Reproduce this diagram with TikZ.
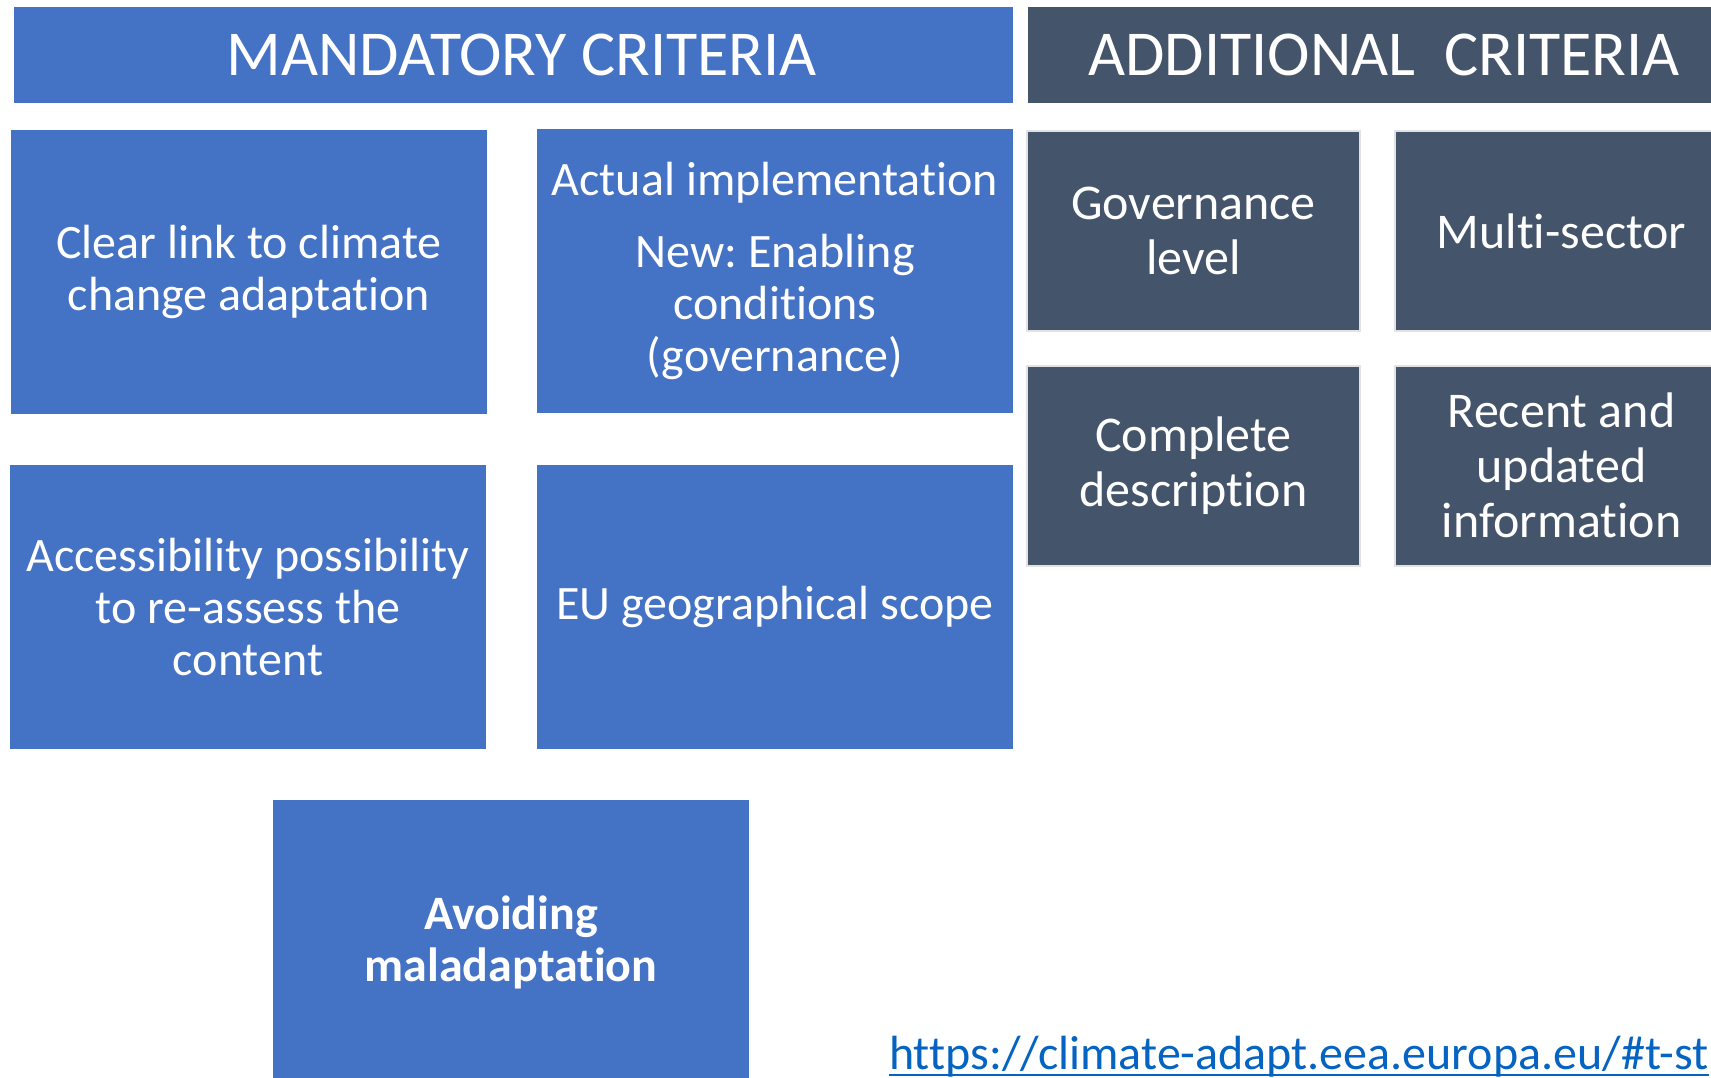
\documentclass[tikz,border=0pt]{standalone}
\usepackage{fontspec}
\setmainfont{Carlito}[Ligatures=NoCommon]
\frenchspacing
\definecolor{mandblue}{HTML}{4472C4}
\definecolor{addslate}{HTML}{44546A}
\definecolor{urlblue}{HTML}{0563C1}
\definecolor{addrim}{HTML}{E2E2E2}
\tikzset{x=1pt,y=-1pt,
    headbox/.style={inner sep=0pt,text=white,
        font=\fontsize{64}{70}\selectfont,minimum height=96pt},
    mandbox/.style={fill=mandblue,inner sep=0pt,text=white,align=center,
        minimum width=476pt,minimum height=284pt,
        font=\fontsize{48}{52}\selectfont},
    addbox/.style={fill=addslate,draw=addrim,line width=2pt,inner sep=0pt,
        text=white,align=center,minimum width=333pt,minimum height=200pt,
        font=\fontsize{50}{55}\selectfont},
    }
\begin{document}
\begin{tikzpicture}
	\useasboundingbox (0,0) rectangle (1711,1078);
	\clip (0,0) rectangle (1711,1078);
	% headers
	\node[headbox,fill=mandblue,minimum width=999pt] (mandhead) at (513.5,55) {\hspace*{16pt}MANDATORY CRITERIA};
	\node[headbox,fill=addslate,minimum width=712pt] (addhead) at (1384,55) {ADDITIONAL\ \ CRITERIA};
	% mandatory criteria
	\node[mandbox] (clear) at (249,272) {Clear link to climate\\change adaptation};
	\node[mandbox] (actual) at (775,271) {Actual implementation\\[20pt]New: Enabling\\conditions\\(governance)};
	\node[mandbox] (access) at (248,607) {Accessibility possibility\\to re-assess the\\content};
	\node[mandbox] (eu) at (775,607) {EU geographical scope};
	\node[mandbox,font=\fontsize{48}{52}\selectfont\bfseries] (avoid) at (511,942) {Avoiding\\maladaptation};
	% additional criteria
	\node[addbox] (gov) at (1193.5,231) {Governance\\level};
	\node[addbox] (multi) at (1561.5,231) {Multi-sector};
	\node[addbox] (complete) at (1193.5,465.5) {Complete\\description};
	\node[addbox] (recent) at (1561.5,465.5) {Recent and\\updated\\information};
	% link
	\node[anchor=base west,inner sep=0pt,text=urlblue,font=\fontsize{48}{52}\selectfont] (url) at (889,1069) {https://climate-adapt.eea.europa.eu/\#t-st};
	\draw[urlblue,line width=2.5pt] ([yshift=-6pt]url.base west) -- ([yshift=-6pt]url.base east);
\end{tikzpicture}
\end{document}
